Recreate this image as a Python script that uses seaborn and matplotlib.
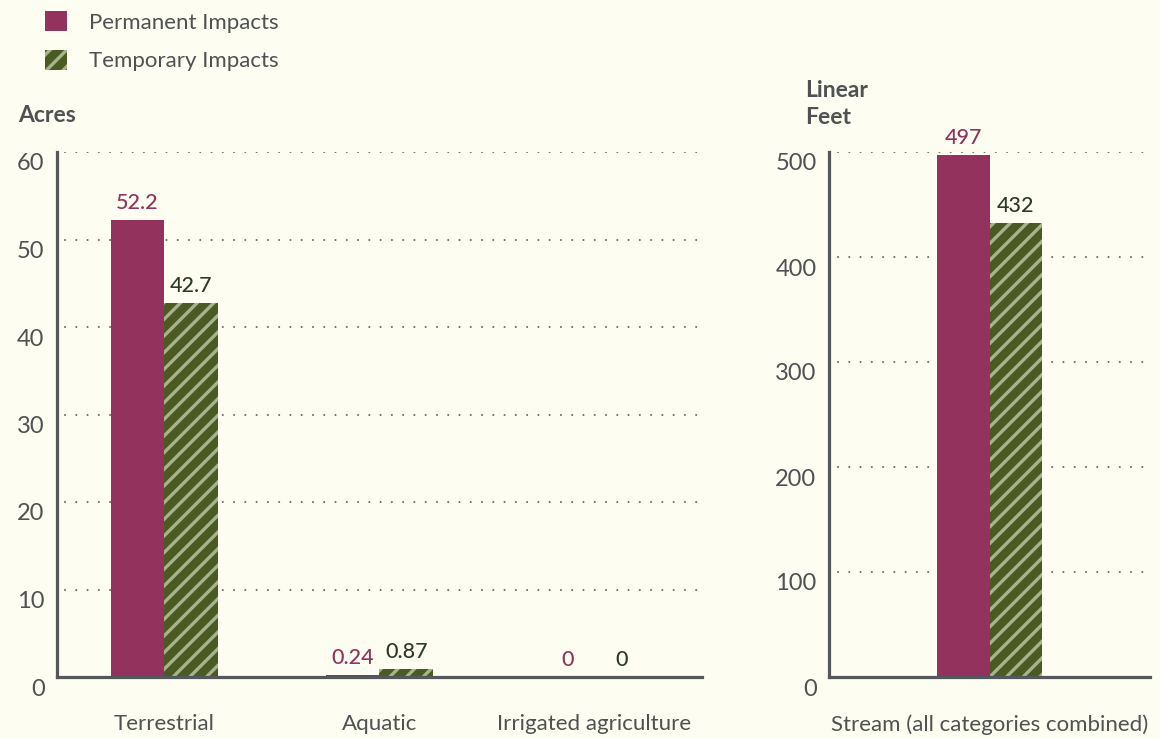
import matplotlib
matplotlib.use("Agg")
import matplotlib.pyplot as plt
import matplotlib.transforms as mtransforms
from matplotlib.patches import Patch
import seaborn as sns
import pandas as pd

# ---- data ----
acre_categories = ["Terrestrial", "Aquatic", "Irrigated agriculture"]
acre_permanent = [52.2, 0.24, 0]
acre_temporary = [42.7, 0.87, 0]
acre_ticks = [0, 10, 20, 30, 40, 50, 60]

stream_categories = ["Stream (all categories combined)"]
stream_permanent = [497]
stream_temporary = [432]
stream_ticks = [0, 100, 200, 300, 400, 500]

series_names = ["Permanent Impacts", "Temporary Impacts"]

# ---- style ----
BG = "#FDFDF2"
MAROON = "#93325C"
OLIVE = "#4A5A23"
STRIPE = "#A8B28D"
GREEN_TXT = "#2E3B24"
TXT = "#4F5152"
AXIS = "#55585A"

sns.set_theme(style="white")
plt.rcParams["font.family"] = ["Lato", "DejaVu Sans"]
plt.rcParams["hatch.linewidth"] = 2.4
plt.rcParams["axes.facecolor"] = BG
plt.rcParams["figure.facecolor"] = BG

fig = plt.figure(figsize=(11.6, 7.39), dpi=100)
W, H = 1160, 739


def frame(px_left, px_right, px_top, px_bottom):
    return [px_left / W, 1 - px_bottom / H, (px_right - px_left) / W, (px_bottom - px_top) / H]


ax1 = fig.add_axes(frame(57, 702, 152, 677))
ax2 = fig.add_axes(frame(829, 1150, 152, 677))


def long_table(cats, perm, temp):
    return pd.DataFrame({
        "category": cats * 2,
        "impact": [series_names[0]] * len(cats) + [series_names[1]] * len(cats),
        "value": list(perm) + list(temp),
    })


def draw_panel(ax, df, ticks, width, xlim, grid_start):
    sns.barplot(data=df, x="category", y="value", hue="impact",
                hue_order=series_names, palette=[MAROON, OLIVE],
                width=width, saturation=1, ax=ax, legend=False, linewidth=0)
    for p in ax.containers[1]:
        p.set_hatch("//")
        p.set_edgecolor(STRIPE)
        p.set_linewidth(0)
    ax.bar_label(ax.containers[0], fmt="{:g}", padding=5, color=MAROON,
                 fontsize=15.5, fontweight="medium")
    ax.bar_label(ax.containers[1], fmt="{:g}", padding=5, color=GREEN_TXT,
                 fontsize=15.5, fontweight="medium")

    ax.set_xlim(*xlim)
    ax.set_ylim(0, ticks[-1])
    ax.set_yticks(ticks)
    ax.set_xlabel("")
    ax.set_ylabel("")
    for t in ticks[1:]:
        ax.axhline(t, xmin=grid_start, xmax=1.0, color="#6b6b6b",
                   linewidth=1.5, linestyle=(0, (0.01, 5.4)),
                   dash_capstyle="round", zorder=0)
    for side in ("top", "right"):
        ax.spines[side].set_visible(False)
    for side in ("left", "bottom"):
        ax.spines[side].set_color(AXIS)
        ax.spines[side].set_linewidth(2.3)
    ax.tick_params(axis="x", length=0, pad=27, labelsize=16, labelcolor=TXT)
    ax.tick_params(axis="y", length=0, pad=9, labelsize=17, labelcolor=TXT)
    shift = mtransforms.ScaledTranslation(0, -0.10, fig.dpi_scale_trans)
    for lbl in ax.get_yticklabels():
        lbl.set_transform(lbl.get_transform() + shift)


draw_panel(ax1, long_table(acre_categories, acre_permanent, acre_temporary),
           acre_ticks, 0.5, (-0.5, 2.5), 0.012)
draw_panel(ax2, long_table(stream_categories, stream_permanent, stream_temporary),
           stream_ticks, 0.33, (-0.5, 0.5), 0.028)

# axis titles
fig.text(18 / W, 1 - 115 / H, "Acres", fontsize=16.5, fontweight="bold",
         color=TXT, va="center", ha="left")
fig.text(805 / W, 1 - 104 / H, "Linear\nFeet", fontsize=16.5, fontweight="bold",
         color=TXT, va="center", ha="left", linespacing=1.4)

# legend
handles = [
    Patch(facecolor=MAROON, edgecolor=MAROON, linewidth=0, label=series_names[0]),
    Patch(facecolor=OLIVE, edgecolor=STRIPE, hatch="//", linewidth=0, label=series_names[1]),
]
fig.legend(handles=handles, loc="upper left", bbox_to_anchor=(45 / W, 1 - 11 / H),
           frameon=False, fontsize=16, labelcolor=TXT, borderpad=0,
           borderaxespad=0, handlelength=1.0, handleheight=1.0,
           handletextpad=1.0, labelspacing=0.78)

fig.savefig("out.png", dpi=100, facecolor=BG)
